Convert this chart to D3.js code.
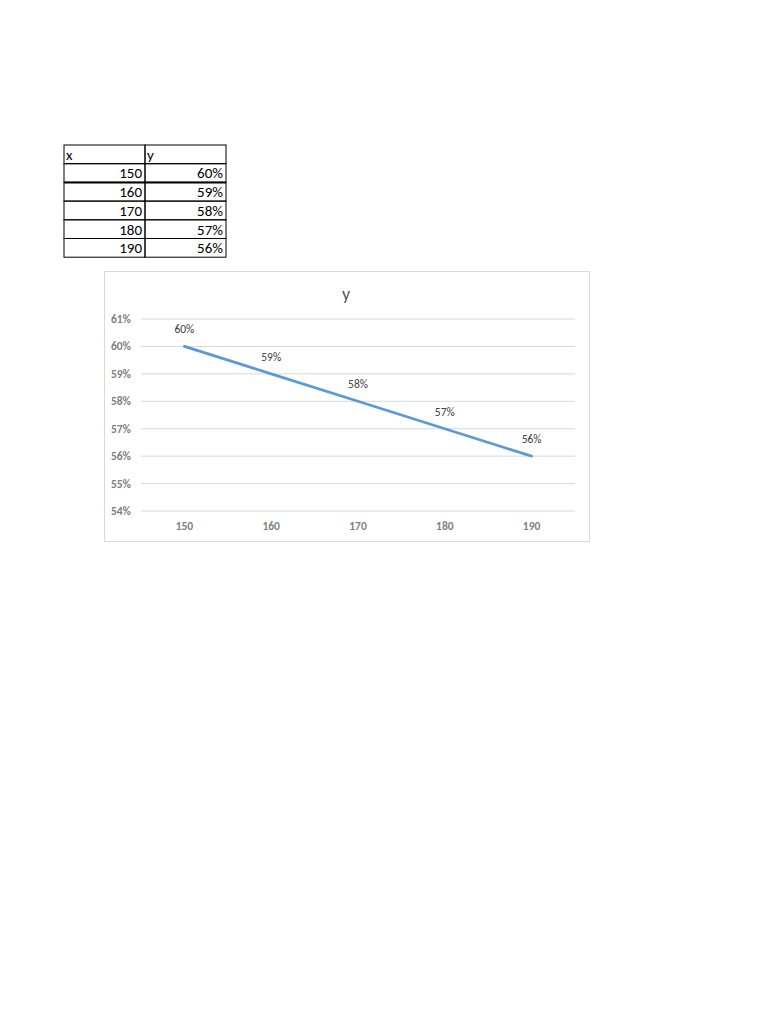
<!DOCTYPE html>
<html>
<head>
<meta charset="utf-8">
<script src="https://cdn.jsdelivr.net/npm/d3@7"></script>
<style>
  body { margin: 0; background: #fff; }
  svg { display: block; }
</style>
</head>
<body>
<div id="chart"></div>
<script>
const xValues = [150, 160, 170, 180, 190];
const yValues = [0.60, 0.59, 0.58, 0.57, 0.56];
const yTicks = [0.54, 0.55, 0.56, 0.57, 0.58, 0.59, 0.60, 0.61];
const tableHeader = ["x", "y"];
const chartTitle = "y";

const font = "Carlito, 'Liberation Sans Narrow', 'Liberation Sans', sans-serif";
const fmt = d3.format(".0%");

const svg = d3.select("#chart")
  .append("svg")
  .attr("width", 768)
  .attr("height", 1024);

// spreadsheet table
const table = { left: 64, top: 145, rowH: 18.7, colW: [81, 81] };
const rows = [tableHeader].concat(xValues.map((d, i) => [d, fmt(yValues[i])]));
const tg = svg.append("g");

rows.forEach((r, i) => {
  const y0 = table.top + i * table.rowH;
  let x0 = table.left;
  r.forEach((v, j) => {
    tg.append("rect")
      .attr("x", x0).attr("y", y0)
      .attr("width", table.colW[j]).attr("height", table.rowH)
      .attr("fill", "none").attr("stroke", "#000").attr("stroke-width", 1);
    tg.append("text")
      .attr("x", i === 0 ? x0 + 2 : x0 + table.colW[j] - 3)
      .attr("y", y0 + table.rowH - 4)
      .attr("text-anchor", i === 0 ? "start" : "end")
      .attr("font-family", font)
      .attr("font-size", 15)
      .attr("fill", "#000")
      .text(v);
    x0 += table.colW[j];
  });
});
// thick line under first data row
tg.append("line")
  .attr("x1", table.left).attr("x2", table.left + table.colW[0] + table.colW[1])
  .attr("y1", table.top + 2 * table.rowH).attr("y2", table.top + 2 * table.rowH)
  .attr("stroke", "#000").attr("stroke-width", 2);

// chart box
const box = { x: 104, y: 271, w: 485, h: 270 };
svg.append("rect")
  .attr("x", box.x + 0.5).attr("y", box.y + 0.5)
  .attr("width", box.w).attr("height", box.h)
  .attr("fill", "#fff").attr("stroke", "#d9d9d9");

svg.append("text")
  .attr("x", 346).attr("y", 300)
  .attr("text-anchor", "middle")
  .attr("font-family", font)
  .attr("font-size", 18)
  .attr("fill", "#595959")
  .text(chartTitle);

const plot = { left: 141, right: 575, top: 319, bottom: 511 };

const x = d3.scaleBand()
  .domain(xValues)
  .range([plot.left, plot.right])
  .padding(0);

const y = d3.scaleLinear()
  .domain([0.54, 0.61])
  .range([plot.bottom, plot.top]);

const g = svg.append("g");

g.selectAll(".grid")
  .data(yTicks)
  .enter().append("line")
  .attr("class", "grid")
  .attr("x1", plot.left).attr("x2", plot.right)
  .attr("y1", d => y(d)).attr("y2", d => y(d))
  .attr("stroke", "#d9d9d9").attr("stroke-width", 1);

g.selectAll(".ylab")
  .data(yTicks)
  .enter().append("text")
  .attr("class", "ylab")
  .attr("x", 131)
  .attr("y", d => y(d) + 4)
  .attr("text-anchor", "end")
  .attr("font-family", font)
  .attr("font-size", 11.5)
  .attr("font-weight", "bold")
  .attr("fill", "#7f7f7f")
  .text(d => fmt(d));

g.selectAll(".xlab")
  .data(xValues)
  .enter().append("text")
  .attr("class", "xlab")
  .attr("x", d => x(d) + x.bandwidth() / 2)
  .attr("y", 530)
  .attr("text-anchor", "middle")
  .attr("font-family", font)
  .attr("font-size", 11.5)
  .attr("font-weight", "bold")
  .attr("fill", "#7f7f7f")
  .text(d => d);

const pts = xValues.map((d, i) => ({ x: d, y: yValues[i] }));

const line = d3.line()
  .x(d => x(d.x) + x.bandwidth() / 2)
  .y(d => y(d.y));

g.append("path")
  .datum(pts)
  .attr("d", line)
  .attr("fill", "none")
  .attr("stroke", "#5b9bd5")
  .attr("stroke-width", 2.75)
  .attr("stroke-linecap", "round");

g.selectAll(".dlab")
  .data(pts)
  .enter().append("text")
  .attr("class", "dlab")
  .attr("x", d => x(d.x) + x.bandwidth() / 2)
  .attr("y", d => y(d.y) - 13)
  .attr("text-anchor", "middle")
  .attr("font-family", font)
  .attr("font-size", 11.5)
  .attr("fill", "#404040")
  .text(d => fmt(d.y));
</script>
</body>
</html>
